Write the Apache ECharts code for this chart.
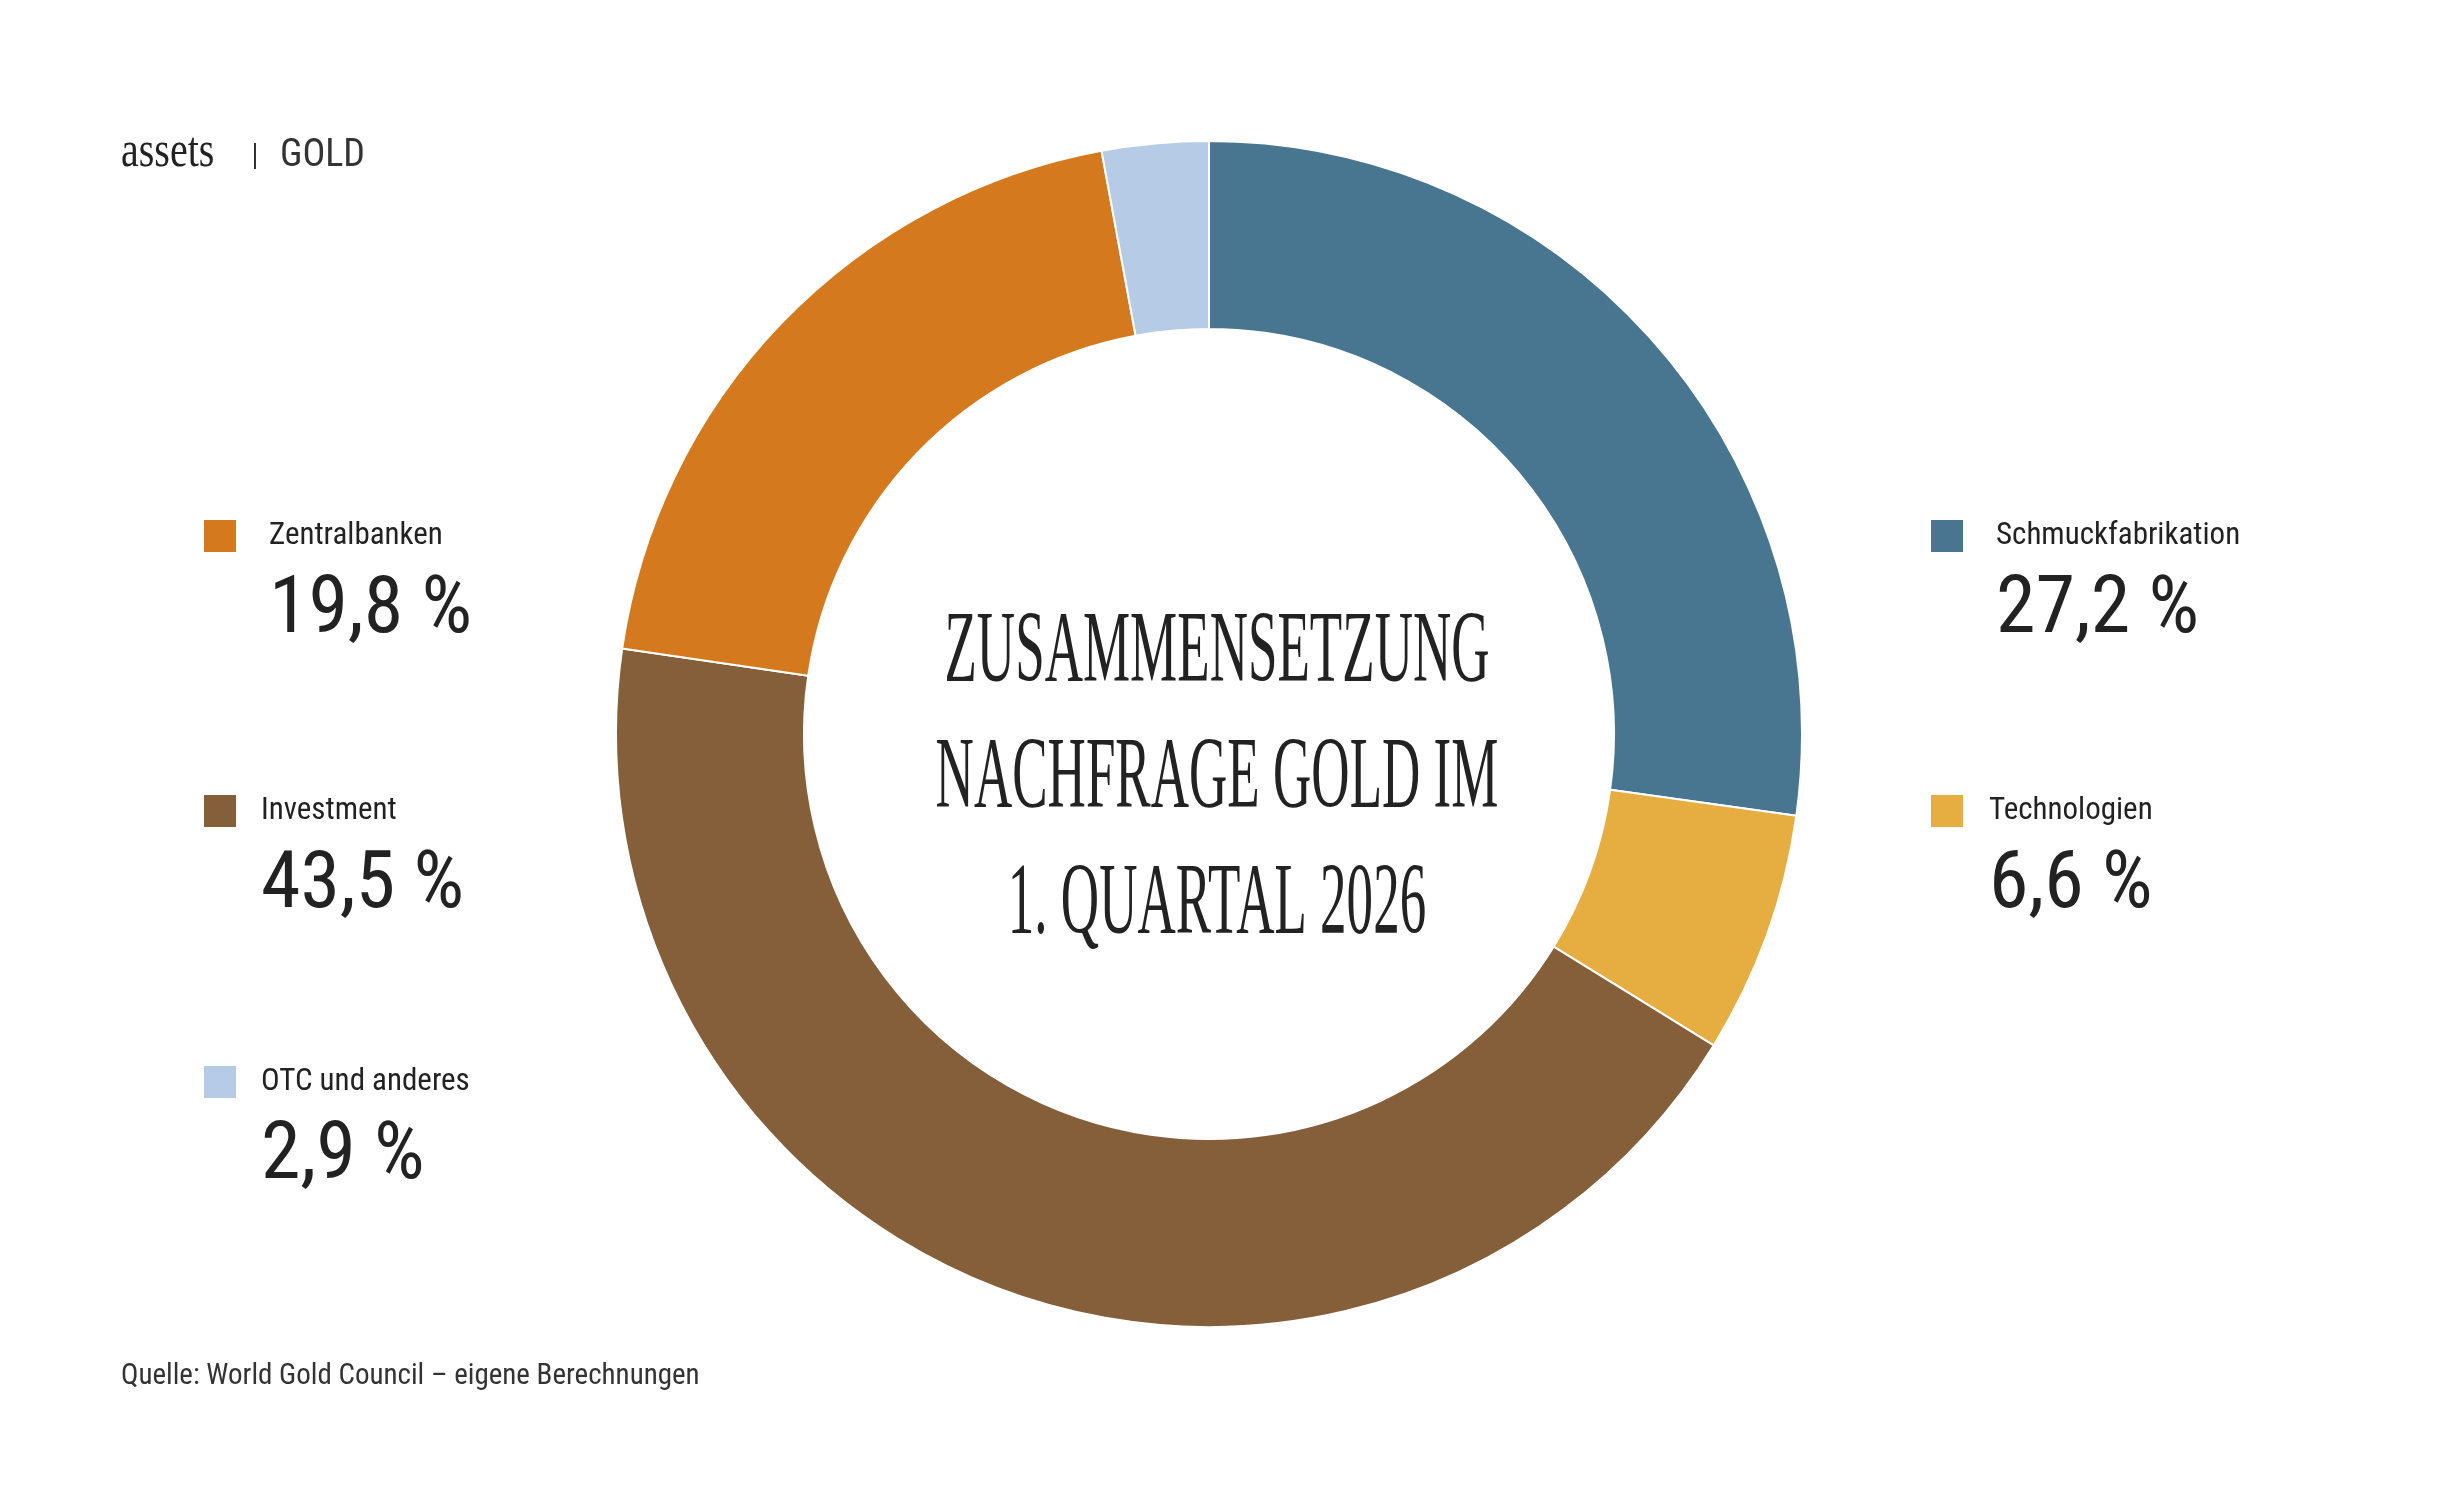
<!DOCTYPE html>
<html><head><meta charset="utf-8">
<script src="https://cdn.jsdelivr.net/npm/echarts@6/dist/echarts.min.js"></script>
<style>html,body{margin:0;padding:0;background:#fff}#c{width:2439px;height:1490px}</style>
</head><body><div id="c"></div>
<script>
const categories = ['Schmuckfabrikation','Technologien','Investment','Zentralbanken','OTC und anderes'];
const values = [27.2, 6.6, 43.5, 19.8, 2.9];
const colors = ['#48758f','#e6ae40','#855e3a','#d4791e','#b6cce6'];
const titleLines = ['ZUSAMMENSETZUNG','NACHFRAGE GOLD IM','1. QUARTAL 2026'];
// legend slots: [squareX, squareY, labelX]
const slots = [[1931,520,1996],[1931,795,1989],[204,795,261],[204,520,269],[204,1066,261]];
const sans = '"Liberation Sans Narrow","Roboto Condensed","Liberation Sans",sans-serif';
const fmt = v => v.toFixed(1).replace('.', ',') + ' %';
const g = [];
g.push({type:'text',x:121,y:153,scaleX:0.8,style:{text:'assets',font:'50px "Liberation Serif"',fill:'#222',verticalAlign:'middle'}});
g.push({type:'rect',shape:{x:254,y:143,width:2,height:26},style:{fill:'#333'}});
g.push({type:'text',x:280,y:156,style:{text:'GOLD',font:'38px '+sans,fill:'#333',verticalAlign:'middle'}});
categories.forEach((c,i)=>{
  const s=slots[i];
  g.push({type:'rect',shape:{x:s[0],y:s[1],width:32,height:32},style:{fill:colors[i]}});
  g.push({type:'text',x:s[2],y:s[1]+16,style:{text:c,font:'31px '+sans,fill:'#222',verticalAlign:'middle'}});
  g.push({type:'text',x:s[2],y:s[1]+92,style:{text:fmt(values[i]),font:'80px '+sans,fill:'#222',verticalAlign:'middle'}});
});
titleLines.forEach((t,i)=>{
  g.push({type:'text',x:1217,y:654+i*126,scaleX:0.52,
    style:{text:t,font:'102px "Liberation Serif"',fill:'#222',align:'center',verticalAlign:'middle'}});
});
g.push({type:'text',x:121,y:1377,style:{text:'Quelle: World Gold Council – eigene Berechnungen',font:'29px '+sans,fill:'#333',verticalAlign:'middle'}});
const chart = echarts.init(document.getElementById('c'));
chart.setOption({
  animation:false,
  series:[{type:'pie',center:[1209,734],radius:[405,593],startAngle:90,clockwise:true,
    label:{show:false},labelLine:{show:false},
    itemStyle:{borderColor:'#fff',borderWidth:2},
    data:categories.map((c,i)=>({name:c,value:values[i],itemStyle:{color:colors[i]}}))}],
  graphic:g
});
</script></body></html>
